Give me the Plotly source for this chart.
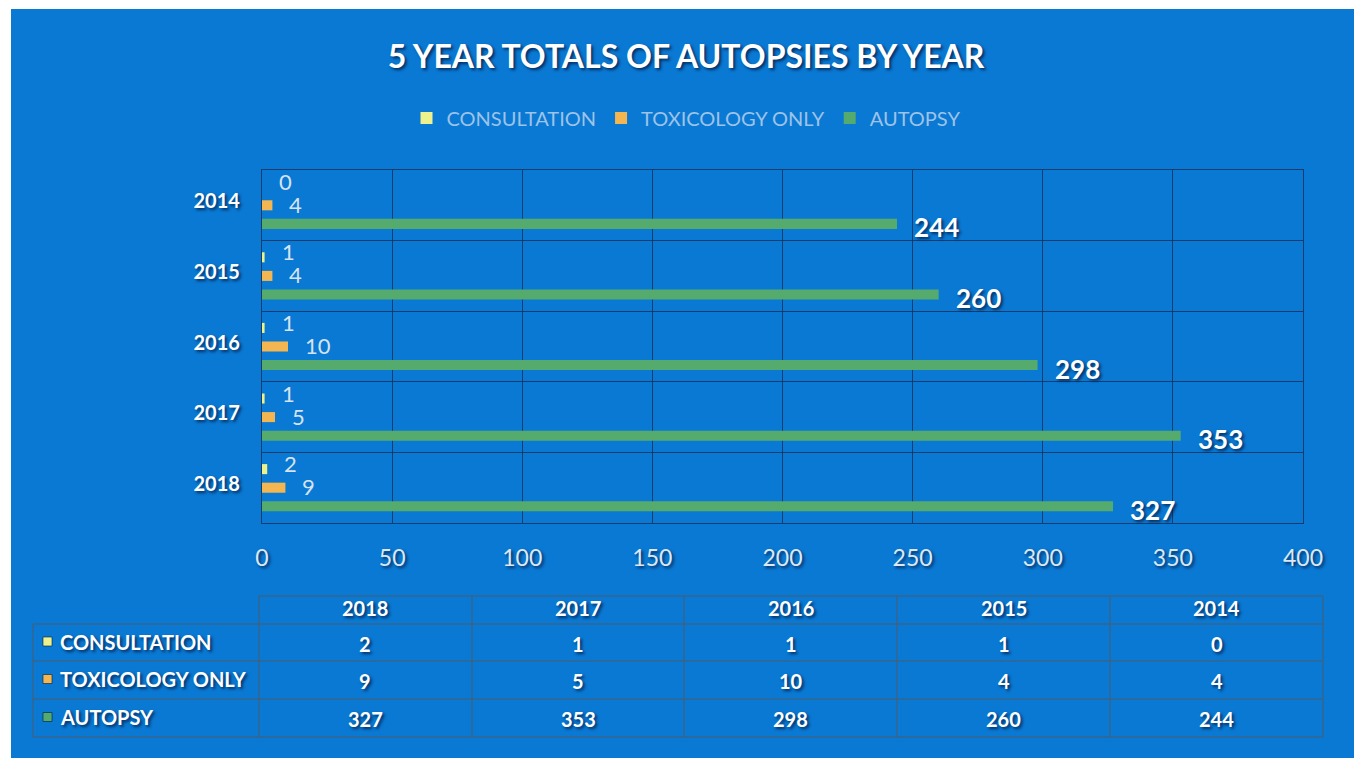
import plotly.graph_objects as go

# ---- data -------------------------------------------------------------
years = ["2018", "2017", "2016", "2015", "2014"]
consultation = [2, 1, 1, 1, 0]
toxicology = [9, 5, 10, 4, 4]
autopsy = [327, 353, 298, 260, 244]
series_names = ["CONSULTATION", "TOXICOLOGY ONLY", "AUTOPSY"]
x_ticks = [0, 50, 100, 150, 200, 250, 300, 350, 400]

# ---- styling ----------------------------------------------------------
W, H = 1362, 763
BLUE = "#0a79d3"
GRID = "rgba(20,50,90,0.85)"
TABLE_LINE = "rgba(90,90,90,0.55)"
SERIES_COLORS = {"CONSULTATION": "#eef28c", "TOXICOLOGY ONLY": "#f4b650", "AUTOPSY": "#55ab6e"}
FONT = "Lato"
SHADOW = "2px 2px 3px rgba(0,20,60,0.75)"


def px(x):
    return x / W


def py(y):
    return 1 - y / H


values = {"CONSULTATION": consultation, "TOXICOLOGY ONLY": toxicology, "AUTOPSY": autopsy}

fig = go.Figure()
# autopsy first so it sits at the bottom of each group
for name in reversed(series_names):
    fig.add_trace(go.Bar(
        y=years, x=values[name], name=name, orientation="h",
        marker=dict(color=SERIES_COLORS[name], line=dict(width=0)),
        hoverinfo="x+name",
    ))

# value labels next to bar ends (y given as category index)
label_style = {
    "CONSULTATION": dict(yshift=24, font=dict(family=FONT, size=22, color="#d6e3f0")),
    "TOXICOLOGY ONLY": dict(yshift=1, font=dict(family=FONT, size=22, color="#d6e3f0")),
    "AUTOPSY": dict(yshift=-22, font=dict(family=FONT, size=26, color="white", weight="bold", shadow=SHADOW)),
}
annotations = []
for name in series_names:
    st = label_style[name]
    for idx, v in enumerate(values[name]):
        annotations.append(dict(
            x=v, y=idx, xref="x", yref="y", text=str(v), showarrow=False,
            xanchor="left", yanchor="middle", xshift=15, yshift=st["yshift"], font=st["font"],
        ))

shapes = [
    # blue chart panel
    dict(type="rect", xref="paper", yref="paper", x0=px(11), x1=px(1354), y0=py(758), y1=py(9),
         fillcolor=BLUE, line=dict(width=0), layer="below"),
]

# ---- data table under the chart ---------------------------------------
col_edges = [259, 472, 684, 897, 1110, 1323]
row_edges = [596, 624, 661, 699, 737]
label_left = 33
table_cols = years  # 2018 ... 2014

shapes.append(dict(type="line", xref="paper", yref="paper", x0=px(col_edges[0]), x1=px(col_edges[-1]),
                   y0=py(row_edges[0]), y1=py(row_edges[0]), line=dict(color=TABLE_LINE, width=1.5)))
for ry in row_edges[1:]:
    shapes.append(dict(type="line", xref="paper", yref="paper", x0=px(label_left), x1=px(col_edges[-1]),
                       y0=py(ry), y1=py(ry), line=dict(color=TABLE_LINE, width=1.5)))
shapes.append(dict(type="line", xref="paper", yref="paper", x0=px(label_left), x1=px(label_left),
                   y0=py(row_edges[1]), y1=py(row_edges[-1]), line=dict(color=TABLE_LINE, width=1.5)))
for cx in col_edges:
    shapes.append(dict(type="line", xref="paper", yref="paper", x0=px(cx), x1=px(cx),
                       y0=py(row_edges[0]), y1=py(row_edges[-1]), line=dict(color=TABLE_LINE, width=1.5)))

cell_font = dict(family=FONT, size=20, color="white", weight="bold", shadow=SHADOW)
header_y = (row_edges[0] + row_edges[1]) / 2
for i, yr in enumerate(table_cols):
    cx = (col_edges[i] + col_edges[i + 1]) / 2
    annotations.append(dict(x=px(cx), y=py(header_y - 2), xref="paper", yref="paper", text=yr,
                            showarrow=False, xanchor="center", yanchor="middle", font=cell_font))

for r, name in enumerate(series_names):
    cy = (row_edges[r + 1] + row_edges[r + 2]) / 2
    shapes.append(dict(type="rect", xref="paper", yref="paper", x0=px(43), x1=px(52),
                       y0=py(cy + 3.5), y1=py(cy - 5.5), fillcolor=SERIES_COLORS[name],
                       line=dict(color="rgba(0,30,60,0.6)", width=1)))
    annotations.append(dict(x=px(58), y=py(cy - 1), xref="paper", yref="paper", text=name,
                            showarrow=False, xanchor="left", yanchor="middle", font=cell_font))
    for i, v in enumerate(values[name]):
        cx = (col_edges[i] + col_edges[i + 1]) / 2
        annotations.append(dict(x=px(cx), y=py(cy + 1), xref="paper", yref="paper", text=str(v),
                                showarrow=False, xanchor="center", yanchor="middle", font=cell_font))

fig.update_layout(
    width=W, height=H, autosize=False,
    margin=dict(l=0, r=0, t=0, b=0, autoexpand=False),
    paper_bgcolor="white", plot_bgcolor="rgba(0,0,0,0)",
    barmode="group", bargap=0.21, bargroupgap=0.46,
    title=dict(text="5 YEAR TOTALS OF AUTOPSIES BY YEAR", x=px(686), xanchor="center",
               y=py(57), yanchor="middle",
               font=dict(family=FONT, size=32, color="white", weight="bold", shadow=SHADOW)),
    legend=dict(orientation="h", x=px(686), xanchor="center", y=py(118), yanchor="middle",
                traceorder="reversed", bgcolor="rgba(0,0,0,0)",
                font=dict(family=FONT, size=20, color="#9ec3e8")),
    xaxis=dict(domain=[px(262), px(1303)], range=[0, 400], autorange=False, tickvals=x_ticks,
               automargin=False,
               showgrid=True, gridcolor=GRID, gridwidth=1.3, zeroline=False,
               showline=True, linecolor=GRID, linewidth=1.3, mirror=True,
               ticks="", ticklabelstandoff=14,
               tickfont=dict(family=FONT, size=23, color="#dde8f3", shadow=SHADOW)),
    yaxis=dict(domain=[py(523), py(170)], type="category", categoryorder="array", categoryarray=years,
               range=[-0.5, len(years) - 0.5], autorange=False, automargin=False,
               showgrid=True, gridcolor=GRID, gridwidth=1.3, tickson="boundaries",
               showline=True, linecolor=GRID, linewidth=1.3, mirror=True,
               ticks="", ticklabelstandoff=17, ticklabelshift=-4,
               tickfont=dict(family=FONT, size=20, color="white", weight="bold", shadow=SHADOW)),
    shapes=shapes,
    annotations=annotations,
    showlegend=True,
)

fig.write_html("out.html")
